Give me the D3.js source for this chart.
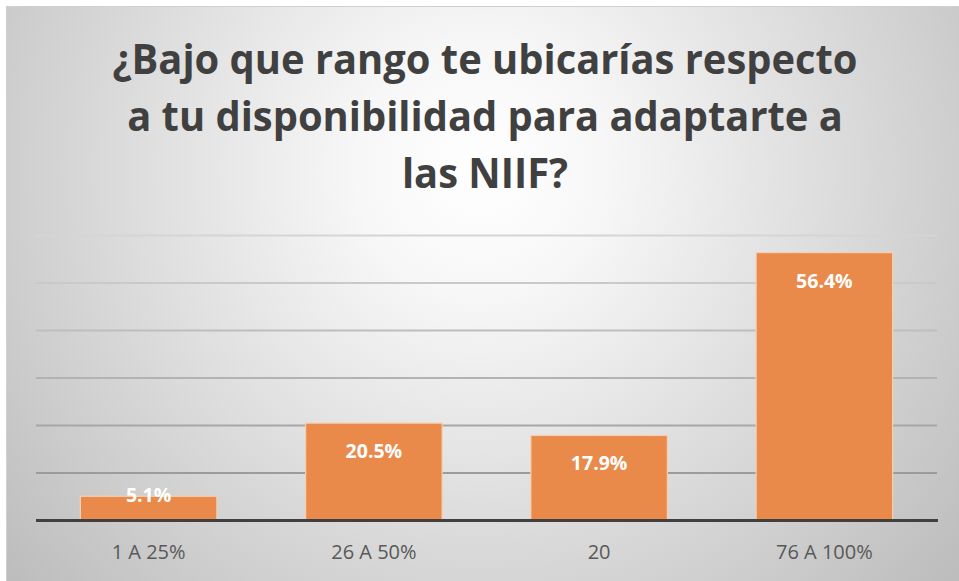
<!DOCTYPE html>
<html>
<head>
<meta charset="utf-8">
<script src="https://cdn.jsdelivr.net/npm/d3@7"></script>
<style>
  body { margin: 0; background: #fff; }
  svg { display: block; }
</style>
</head>
<body>
<svg id="chart" width="959" height="581"></svg>
<script>
// chart data
var categories = ["1 A 25%", "26 A 50%", "20", "76 A 100%"];
var values = [5.1, 20.5, 17.9, 56.4];
var yTicks = [0, 10, 20, 30, 40, 50, 60];
var titleLines = ["¿Bajo que rango te ubicarías respecto", "a tu disponibilidad para adaptarte a", "las NIIF?"];

var W = 959, H = 581;
var margins = { top: 235.5, bottom: 60.5, left: 36, right: 22 };

var svg = d3.select("#chart");
var defs = svg.append("defs");

// background radial gradient
var bg = defs.append("radialGradient")
    .attr("id", "bg")
    .attr("gradientUnits", "userSpaceOnUse")
    .attr("cx", 480).attr("cy", 170).attr("r", 620)
    .attr("fx", 480).attr("fy", 170);
bg.append("stop").attr("offset", "0%").attr("stop-color", "#ffffff");
bg.append("stop").attr("offset", "20%").attr("stop-color", "#f7f7f7");
bg.append("stop").attr("offset", "100%").attr("stop-color", "#bdbdbd");

// gridline stroke fades toward the top
var gg = defs.append("linearGradient")
    .attr("id", "grid")
    .attr("gradientUnits", "userSpaceOnUse")
    .attr("x1", 0).attr("y1", 230).attr("x2", 0).attr("y2", 480);
gg.append("stop").attr("offset", "0%").attr("stop-color", "#d6d6d6");
gg.append("stop").attr("offset", "100%").attr("stop-color", "#9a9a9a");

svg.append("rect")
    .attr("x", 6.5).attr("y", 6.5)
    .attr("width", W).attr("height", H)
    .attr("fill", "url(#bg)")
    .attr("stroke", "#d0d0d0")
    .attr("stroke-width", 1);

// title
var title = svg.append("text")
    .attr("text-anchor", "middle")
    .attr("font-family", "'Open Sans', sans-serif")
    .attr("font-weight", "bold")
    .attr("font-size", 42)
    .attr("fill", "#404040");

title.selectAll("tspan")
    .data(titleLines)
    .enter().append("tspan")
    .attr("x", 485)
    .attr("y", function(d, i) { return 74 + i * 57; })
    .text(function(d) { return d; });

// squeeze title to match the narrower original face
var firstWidth = title.select("tspan").node().getComputedTextLength();
var squeeze = 745 / firstWidth;
title.selectAll("tspan").each(function() {
    var len = this.getComputedTextLength();
    d3.select(this)
        .attr("textLength", len * squeeze)
        .attr("lengthAdjust", "spacingAndGlyphs");
});

var x = d3.scaleBand()
    .domain(categories)
    .range([margins.left, W - margins.right])
    .paddingInner(0.394)
    .paddingOuter(0.197);

var y = d3.scaleLinear()
    .domain([0, 60])
    .range([H - margins.bottom, margins.top]);

// gridlines
svg.append("g")
    .selectAll("line")
    .data(yTicks.slice(1))
    .enter().append("line")
    .attr("x1", margins.left)
    .attr("x2", W - margins.right)
    .attr("y1", function(d) { return y(d); })
    .attr("y2", function(d) { return y(d); })
    .attr("stroke", "url(#grid)")
    .attr("stroke-width", 2);

// bars
var data = categories.map(function(c, i) { return { cat: c, v: values[i] }; });

svg.append("g")
    .selectAll("rect")
    .data(data)
    .enter().append("rect")
    .attr("x", function(d) { return x(d.cat); })
    .attr("y", function(d) { return y(d.v); })
    .attr("width", x.bandwidth())
    .attr("height", function(d) { return y(0) - y(d.v); })
    .attr("fill", "#e98a4b")
    .attr("stroke", "#f6cfb2")
    .attr("stroke-width", 1.2);

// value labels
svg.append("g")
    .selectAll("text")
    .data(data)
    .enter().append("text")
    .attr("x", function(d) { return x(d.cat) + x.bandwidth() / 2; })
    .attr("y", function(d) {
        var h = y(0) - y(d.v);
        return h > 40 ? y(d.v) + 35 : y(d.v) + 6;
    })
    .attr("text-anchor", "middle")
    .attr("font-family", "'Open Sans', sans-serif")
    .attr("font-weight", "bold")
    .attr("font-size", 19.5)
    .attr("fill", "#ffffff")
    .text(function(d) { return d.v.toFixed(1) + "%"; });

// x axis
var xAxis = svg.append("g")
    .attr("transform", "translate(0," + y(0) + ")")
    .call(d3.axisBottom(x).tickSize(0).tickPadding(0));

xAxis.select(".domain")
    .attr("stroke", "#404040")
    .attr("stroke-width", 3)
    .attr("d", "M" + margins.left + ",0H" + (W - margins.right + 1));

xAxis.selectAll(".tick text")
    .attr("dy", null)
    .attr("y", 38)
    .attr("font-family", "'Open Sans', sans-serif")
    .attr("font-size", 20)
    .attr("fill", "#595959");
</script>
</body>
</html>
